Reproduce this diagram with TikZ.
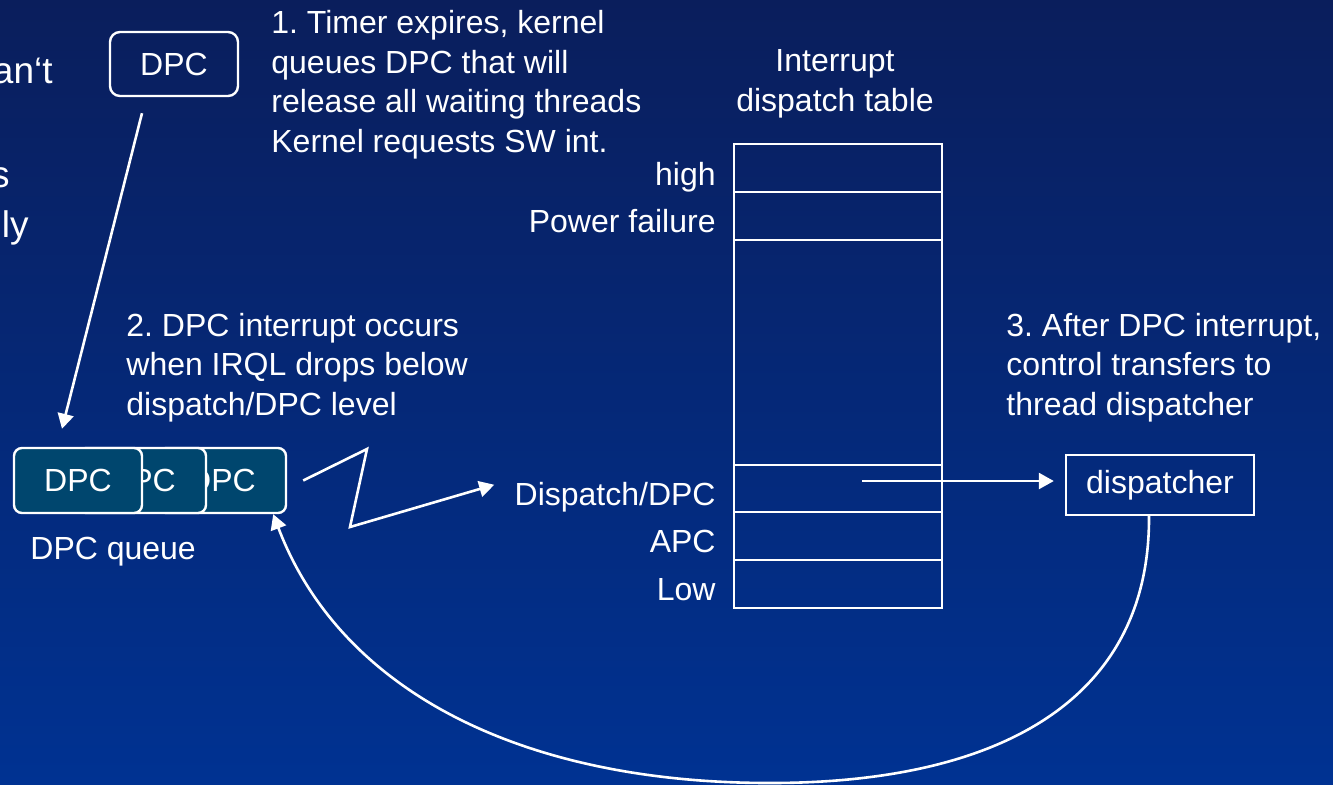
\documentclass[tikz,border=0pt]{standalone}
\usepackage{fontspec}
\setmainfont{Liberation Sans}
\usetikzlibrary{calc,positioning,arrows.meta}

\definecolor{bgtop}{RGB}{10,30,92}
\definecolor{bgbot}{RGB}{0,50,146}
\definecolor{qfill}{RGB}{0,70,110}
\frenchspacing

\begin{document}
\begin{tikzpicture}[x=0.5pt,y=-0.5pt,font=\fontsize{16}{19.75}\selectfont,text=white]
\tikzset{
% white boxes and lines on the blue slide
dpc box/.style={draw=white,line width=1.2pt,rounded corners=5pt,minimum width=64pt,minimum height=32pt,inner sep=0},
queue box/.style={dpc box,fill=qfill,minimum height=32.5pt,rounded corners=4pt},
row/.style={draw=white,line width=1.4pt,minimum width=104pt,minimum height=24pt,inner sep=0,outer sep=0},
lbl/.style={inner sep=0,anchor=base east},
txt/.style={inner sep=0,anchor=base west,align=left},
arr/.style={draw=white,line width=1.3pt,-{Triangle[length=7.5pt,width=8pt]}}
}

% slide background
\useasboundingbox (0,0) rectangle (1333,784);
\shade[top color=bgtop,bottom color=bgbot] (0,0) rectangle (1333,784);

% bullet text cut off at the left edge
\node[lbl,font=\fontsize{18.5}{22}\selectfont] (b1) at (53,83) {an‘t};
\node[lbl,font=\fontsize{18.5}{22}\selectfont] (b2) at (10,187) {s};
\node[lbl,font=\fontsize{18.5}{22}\selectfont] (b3) at (29,237) {ly};

% the DPC that is queued (base = last line)
\node[dpc box] (dpc) at (174,64) {DPC};
\node[txt] (step1) at (271,152) {1. Timer expires, kernel\\queues DPC that will\\release all waiting threads\\Kernel requests SW int.};

% DPC queue
\node[queue box] (q3) at (222,480.5) {DPC};
\node[queue box] (q2) at (142,480.5) {DPC};
\node[queue box] (q1) at (78,480.5) {DPC};
\node[txt] (qname) at (30,559) {DPC queue};

\node[txt] (step2) at (126,415) {2. DPC interrupt occurs\\when IRQL drops below\\dispatch/DPC level};
\node[txt] (step3) at (1006,415) {3. After DPC interrupt,\\control transfers to\\thread dispatcher};

% Interrupt dispatch table
\node[inner sep=0,anchor=base,align=center] (idt) at (835,111) {Interrupt\\dispatch table};
\node[row] (high) at (838,168) {};
\node[row,below=0pt of high] (power) {};
\node[row,below=0pt of power,minimum height=112.5pt] (mid) {};
\node[row,below=0pt of mid,minimum height=23.5pt] (disp) {};
\node[row,below=0pt of disp] (apc) {};
\node[row,below=0pt of apc] (low) {};

\node[lbl] (lhigh) at ($(high.west)+(-18,17)$) {high};
\node[lbl] (lpower) at ($(power.west)+(-18,16.5)$) {Power failure};
\node[lbl] (ldisp) at ($(disp.west)+(-18,16.5)$) {Dispatch/DPC};
\node[lbl] (lapc) at ($(apc.west)+(-18,16.5)$) {APC};
\node[lbl] (llow) at ($(low.west)+(-18,16.5)$) {Low};

\node[draw=white,line width=1.2pt,minimum width=94pt,minimum height=30pt,inner sep=0] (dispatcher) at (1160,485) {dispatcher};

% connectors
\coordinate (d1) at ($(dpc.south)+(-32,16)$);
\coordinate (d2) at ($(q1.north)+(-16,-18)$);
\draw[arr] (d1) -- (d2);

\coordinate (z0) at ($(q3.east)+(16,0)$);
\coordinate (z1) at (367,449);
\coordinate (z2) at (350,527);
\coordinate (z3) at ($(ldisp.west)+(-20,-12)$);
\draw[arr,line join=miter] (z0) -- (z1) -- (z2) -- (z3);

\coordinate (t0) at ($(disp.center)+(24,-7.5)$);
\draw[arr,shorten >=5.5pt] (t0) -- (t0 -| dispatcher.west);

\coordinate (c0) at ($(dispatcher.south)+(-11,0)$);
\coordinate (c1) at ($(q3.south east)+(-14,0)$);
\draw[arr] (c0) .. controls (1150,700) and (1000,783) .. (770,783)
  .. controls (520,783) and (340,690) .. (c1);
\end{tikzpicture}
\end{document}
